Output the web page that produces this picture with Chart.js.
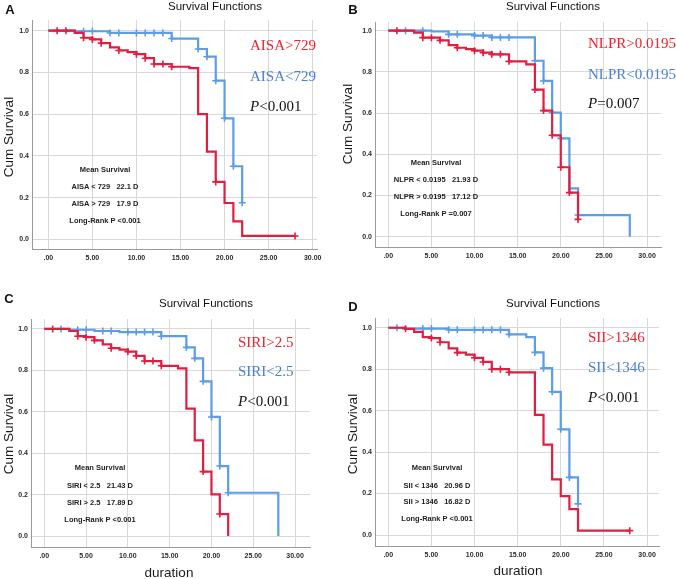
<!DOCTYPE html>
<html>
<head>
<meta charset="utf-8">
<script src="https://cdn.jsdelivr.net/npm/chart.js@4.4.0/dist/chart.umd.min.js"></script>
<style>
  body { margin: 0; background: #fff; }
  #wrap { position: relative; width: 676px; height: 579px; overflow: hidden; font-family: "Liberation Sans", Arial, sans-serif; }
  canvas { position: absolute; }
  .t { position: absolute; white-space: pre; line-height: 1; }
  .letter { font-weight: bold; font-size: 13px; color: #111; }
  .title { font-size: 11.5px; color: #111; }
  .ytitle { font-size: 13.5px; color: #1a1a1a; }
  .xtitle { font-size: 13.5px; color: #1a1a1a; }
  .grp { font-family: "Liberation Serif", "Times New Roman", serif; font-size: 15px; }
  .red { color: #f2202c; }
  .blue { color: #4a7fd6; }
  .pval { color: #111; }
  .mean { font-size: 7.5px; font-weight: bold; color: #222; }
</style>
</head>
<body>
<div id="wrap"></div>
<script>
// tick labels
const xTicks = [0, 5, 10, 15, 20, 25, 30];
const xTickLabels = [".00", "5.00", "10.00", "15.00", "20.00", "25.00", "30.00"];
const yTicks = [0, 0.2, 0.4, 0.6, 0.8, 1.0];
const yTickLabels = ["0.0", "0.2", "0.4", "0.6", "0.8", "1.0"];

// A: AISA
const aRedTime = [0, 3, 4, 5, 6, 7, 8, 9, 10, 11, 12, 14, 16, 17, 18, 19, 20, 21, 22, 28];
const aRedSurv = [1, 0.989, 0.966, 0.958, 0.94, 0.92, 0.905, 0.897, 0.887, 0.868, 0.84, 0.827, 0.82, 0.6, 0.42, 0.275, 0.174, 0.086, 0.016, 0.016];
const aRedCens = [1, 2, 4, 5, 6, 8, 10, 11, 12, 13, 14, 19, 28];
const aBlueTime = [0, 3, 7, 14, 17, 18, 19, 20, 21, 22];
const aBlueSurv = [1, 0.997, 0.989, 0.962, 0.912, 0.875, 0.76, 0.58, 0.35, 0.175];
const aBlueCens = [4, 5, 7, 8, 10, 11, 12, 13, 14, 17, 18, 19, 20, 21, 22];

// B: NLPR
const bRedTime = [0, 3, 4, 6, 7, 8, 9, 10, 11, 12, 14, 16, 17, 18, 19, 20, 21, 22];
const bRedSurv = [1, 0.99, 0.966, 0.953, 0.93, 0.917, 0.91, 0.903, 0.893, 0.885, 0.851, 0.836, 0.714, 0.612, 0.492, 0.337, 0.214, 0.084];
const bRedCens = [1, 4, 5, 6, 8, 10, 11, 12, 13, 14, 17, 18, 19, 20, 21, 22];
const bBlueTime = [0, 5, 7, 10, 12, 17, 18, 19, 20, 21, 22, 28];
const bBlueSurv = [1, 0.996, 0.982, 0.976, 0.967, 0.854, 0.756, 0.602, 0.477, 0.235, 0.105, 0];
const bBlueCens = [2, 4, 7, 8, 10, 11, 12, 13, 14, 17, 18, 19, 20, 22];

// C: SIRI
const cRedTime = [0, 3, 4, 5, 6, 7, 8, 9, 10, 11, 12, 14, 16, 17, 18, 19, 20, 21, 22];
const cRedSurv = [1, 0.99, 0.965, 0.96, 0.945, 0.925, 0.907, 0.9, 0.89, 0.87, 0.845, 0.822, 0.81, 0.615, 0.462, 0.311, 0.201, 0.106, 0];
const cRedCens = [1, 4, 5, 6, 8, 10, 11, 12, 13, 14, 19, 21];
const cBlueTime = [0, 3, 6, 9, 14, 17, 18, 19, 20, 21, 22, 28];
const cBlueSurv = [1, 0.996, 0.99, 0.985, 0.965, 0.911, 0.858, 0.747, 0.575, 0.338, 0.209, 0];
const cBlueCens = [2, 4, 5, 7, 8, 10, 11, 12, 13, 14, 17, 18, 19, 20, 21, 22];

// D: SII
const dRedTime = [0, 2, 3, 4, 5, 6, 7, 8, 9, 10, 11, 12, 14, 17, 18, 19, 20, 21, 22, 28];
const dRedSurv = [1, 0.995, 0.98, 0.955, 0.95, 0.93, 0.9, 0.88, 0.87, 0.855, 0.835, 0.8, 0.785, 0.58, 0.436, 0.268, 0.188, 0.125, 0.021, 0.021];
const dRedCens = [2, 5, 6, 8, 10, 11, 12, 13, 14, 28];
const dBlueTime = [0, 2, 7, 14, 16, 17, 18, 19, 20, 21, 22];
const dBlueSurv = [1, 0.996, 0.99, 0.968, 0.955, 0.881, 0.805, 0.691, 0.51, 0.278, 0.15];
const dBlueCens = [1, 4, 5, 7, 8, 10, 11, 12, 13, 14, 17, 18, 19, 20, 21, 22];

// texts
const groupLabels = {
  A: ["AISA>729", "AISA<729"],
  B: ["NLPR>0.0195", "NLPR<0.0195"],
  C: ["SIRI>2.5", "SIRI<2.5"],
  D: ["SII>1346", "SII<1346"]
};
const pTexts = { A: "<0.001", B: "=0.007", C: "<0.001", D: "<0.001" };
const meanLines = {
  A: ["Mean Survival", "AISA < 729   22.1 D", "AISA > 729   17.9 D", "Long-Rank P <0.001"],
  B: ["Mean Survival", "NLPR < 0.0195   21.93 D", "NLPR > 0.0195   17.12 D", "Long-Rank P =0.007"],
  C: ["Mean Survival", "SIRI < 2.5   21.43 D", "SIRI > 2.5   17.89 D", "Long-Rank P <0.001"],
  D: ["Mean Survival", "SII < 1346   20.96 D", "SII > 1346   16.82 D", "Long-Rank P <0.001"]
};

const RED = "#e31d40";
const BLUE = "#5c9de8";

const wrap = document.getElementById("wrap");

// text helper, (x, y) is the anchor; align 'c' centres, 'l' is left edge
function addText(str, x, y, cls, align) {
  const el = document.createElement("div");
  el.className = "t " + cls;
  el.textContent = str;
  el.style.left = x + "px";
  el.style.top = y + "px";
  el.style.transform = align === "l" ? "translate(0,-50%)" : "translate(-50%,-50%)";
  wrap.appendChild(el);
  return el;
}

// value of the step curve at time t
function stepValue(times, surv, t) {
  let v = surv[0];
  for (let i = 0; i < times.length; i++) {
    if (times[i] <= t) v = surv[i];
  }
  return v;
}

const panels = [
  { id: "A", box: [0, 0, 336, 290], area: [32, 20, 317, 249], x: [-1.85, 30.49], y: [-0.0465, 1.051],
    red: [aRedTime, aRedSurv, aRedCens], blue: [aBlueTime, aBlueSurv, aBlueCens],
    letter: [10, 9], title: [215, 7], ytitle: [9, 137], xtitle: null,
    grp: [250, 45, 76, 106], mean: [105, 170, 187, 204, 221] },
  { id: "B", box: [336, 0, 340, 290], area: [39, 22, 325, 247], x: [-1.54, 31.62], y: [-0.05, 1.042],
    red: [bRedTime, bRedSurv, bRedCens], blue: [bBlueTime, bBlueSurv, bBlueCens],
    letter: [353, 9], title: [553, 7], ytitle: [348, 124], xtitle: null,
    grp: [588, 43, 74, 103], mean: [436, 163, 180, 197, 214] },
  { id: "C", box: [0, 290, 336, 289], area: [31, 29, 310, 257], x: [-1.59, 31.79], y: [-0.053, 1.048],
    red: [cRedTime, cRedSurv, cRedCens], blue: [cBlueTime, cBlueSurv, cBlueCens],
    letter: [9, 298], title: [206, 304], ytitle: [9, 434], xtitle: [169, 573],
    grp: [238, 342, 371, 401], mean: [100, 468, 486, 503, 520] },
  { id: "D", box: [336, 290, 340, 289], area: [39, 28, 323, 256], x: [-1.54, 31.39], y: [-0.053, 1.047],
    red: [dRedTime, dRedSurv, dRedCens], blue: [dBlueTime, dBlueSurv, dBlueCens],
    letter: [353, 306], title: [553, 304], ytitle: [353, 434], xtitle: [518, 571],
    grp: [588, 337, 367, 397], mean: [437, 468, 486, 502, 519] }
];

function curve(series) {
  return series[0].map((t, i) => ({ x: t, y: series[1][i] }));
}
function censored(series) {
  return series[2].map(t => ({ x: t, y: stepValue(series[0], series[1], t) }));
}

panels.forEach(p => {
  const [bx, by, bw, bh] = p.box;
  const cv = document.createElement("canvas");
  cv.width = bw;
  cv.height = bh;
  cv.style.left = bx + "px";
  cv.style.top = by + "px";
  wrap.appendChild(cv);

  const lineDs = (label, series, color) => ({
    label: label,
    data: curve(series),
    borderColor: color,
    borderWidth: 2.2,
    stepped: true,
    pointRadius: 0,
    fill: false
  });
  const censDs = (label, series, color) => ({
    label: label,
    data: censored(series),
    showLine: false,
    borderColor: color,
    backgroundColor: color,
    pointStyle: "cross",
    pointRadius: 3.5,
    pointBorderWidth: 1.6
  });

  new Chart(cv.getContext("2d"), {
    type: "line",
    data: {
      datasets: [
        censDs(groupLabels[p.id][0] + " censored", p.red, RED),
        lineDs(groupLabels[p.id][0], p.red, RED),
        censDs(groupLabels[p.id][1] + " censored", p.blue, BLUE),
        lineDs(groupLabels[p.id][1], p.blue, BLUE)
      ]
    },
    options: {
      responsive: false,
      animation: false,
      layout: { padding: { left: 0, top: p.area[1], right: bw - p.area[2], bottom: 0 } },
      plugins: { legend: { display: false }, tooltip: { enabled: false } },
      scales: {
        x: {
          type: "linear",
          min: p.x[0],
          max: p.x[1],
          afterFit: s => { s.height = bh - p.area[3]; },
          afterBuildTicks: s => { s.ticks = xTicks.map(v => ({ value: v })); },
          grid: { color: "#d8d8d8", lineWidth: 1, drawTicks: false },
          border: { display: true, color: "#9a9a9a", width: 1 },
          ticks: {
            padding: 5,
            maxRotation: 0,
            autoSkip: false,
            color: "#2a2a2a",
            font: { family: "Liberation Sans", size: 7, weight: "bold" },
            callback: (v, i) => xTickLabels[i]
          }
        },
        y: {
          min: p.y[0],
          max: p.y[1],
          afterFit: s => { s.width = p.area[0]; },
          afterBuildTicks: s => { s.ticks = yTicks.map(v => ({ value: v })); },
          grid: { color: "#d8d8d8", lineWidth: 1, drawTicks: false },
          border: { display: true, color: "#9a9a9a", width: 1 },
          ticks: {
            padding: 3,
            autoSkip: false,
            color: "#2a2a2a",
            font: { family: "Liberation Sans", size: 7, weight: "bold" },
            callback: (v, i) => yTickLabels[i]
          }
        }
      }
    }
  });

  // labels around the plot
  addText(p.id, p.letter[0], p.letter[1], "letter", "c");
  addText("Survival Functions", p.title[0], p.title[1], "title", "c");
  const yt = addText("Cum Survival", p.ytitle[0], p.ytitle[1], "ytitle", "c");
  yt.style.transform = "translate(-50%,-50%) rotate(-90deg)";
  if (p.xtitle) addText("duration", p.xtitle[0], p.xtitle[1], "xtitle", "c");

  addText(groupLabels[p.id][0], p.grp[0], p.grp[1], "grp red", "l");
  addText(groupLabels[p.id][1], p.grp[0], p.grp[2], "grp blue", "l");
  const pv = addText("", p.grp[0], p.grp[3], "grp pval", "l");
  const it = document.createElement("i");
  it.textContent = "P";
  pv.appendChild(it);
  pv.appendChild(document.createTextNode(pTexts[p.id]));

  meanLines[p.id].forEach((line, i) => {
    addText(line, p.mean[0], p.mean[i + 1], "mean", "c");
  });
});
</script>
</body>
</html>
